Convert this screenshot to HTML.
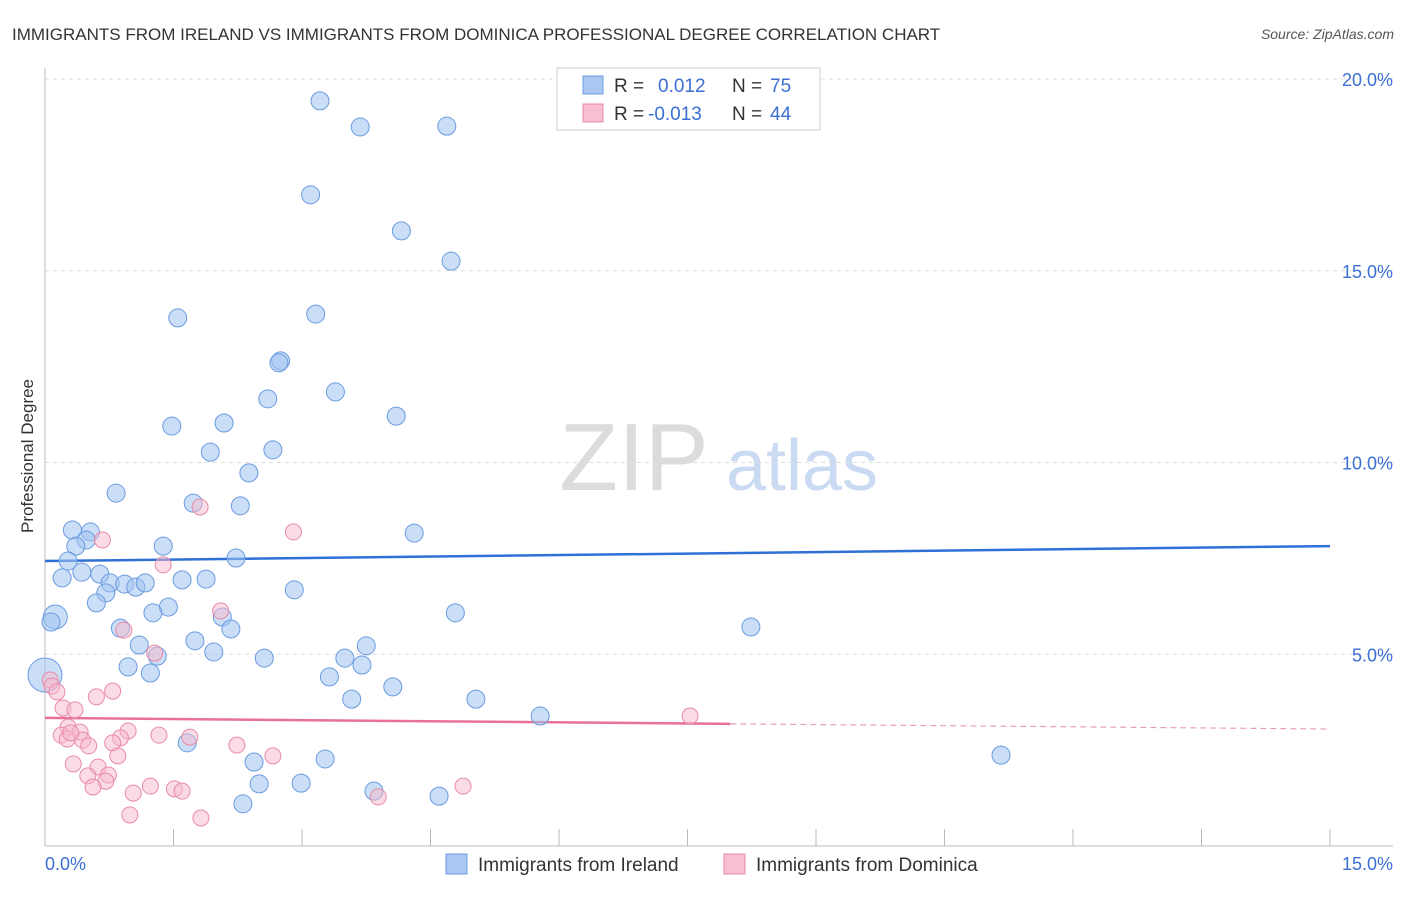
<!DOCTYPE html>
<html><head><meta charset="utf-8">
<style>
body{margin:0;background:#fff;font-family:"Liberation Sans",sans-serif;}
svg text{font-family:"Liberation Sans",sans-serif;}
</style></head>
<body>
<svg id="chart" width="1406" height="892" xmlns="http://www.w3.org/2000/svg">
<text x="12" y="40" font-size="17" fill="#333">IMMIGRANTS FROM IRELAND VS IMMIGRANTS FROM DOMINICA PROFESSIONAL DEGREE CORRELATION CHART</text>
<text x="1394" y="39" font-size="14" fill="#555" font-style="italic" text-anchor="end">Source: ZipAtlas.com</text>
<text transform="translate(33,456) rotate(-90)" font-size="17" fill="#333" text-anchor="middle">Professional Degree</text>
<g>
<text x="634" y="490" font-size="96" fill="#dcdcdc" font-family="Liberation Serif" text-anchor="middle">ZIP</text>
<text x="802" y="490" font-size="72" fill="#c9daf2" text-anchor="middle">atlas</text>
</g>
<g id="grid"></g>
<g id="axes"></g>
<g id="trend"></g>
<g id="points"></g>
<g>
<rect x="557" y="68" width="263" height="62" fill="#fff" stroke="#ccc"/>
<rect x="583" y="76" width="20" height="18" fill="#a9c7f0" stroke="#6a9be0"/>
<text x="614" y="92" font-size="19" fill="#333">R =</text><text x="658" y="92" font-size="19" fill="#3b6fd4">0.012</text>
<text x="732" y="92" font-size="19" fill="#333">N =</text><text x="770" y="92" font-size="19" fill="#3b6fd4">75</text>
<rect x="583" y="104" width="20" height="18" fill="#f7bfd0" stroke="#e88aa8"/>
<text x="614" y="120" font-size="19" fill="#333">R =</text><text x="648" y="120" font-size="19" fill="#3b6fd4">-0.013</text>
<text x="732" y="120" font-size="19" fill="#333">N =</text><text x="770" y="120" font-size="19" fill="#3b6fd4">44</text>
</g>
<g>
<rect x="446" y="854" width="21" height="20" fill="#a9c7f0" stroke="#6a9be0"/>
<text x="478" y="871" font-size="19" fill="#333">Immigrants from Ireland</text>
<rect x="724" y="854" width="21" height="20" fill="#f7bfd0" stroke="#e88aa8"/>
<text x="756" y="871" font-size="19" fill="#333">Immigrants from Dominica</text>
</g>
</svg>
<script>
const yTicks=[5,10,15,20];
const yTickLabels=["5.0%","10.0%","15.0%","20.0%"];
const xTickCount=10;
const xLabels=["0.0%","15.0%"];
const irelandX=[3.21,3.68,4.69,3.10,4.16,4.74,1.55,3.16,2.75,2.73,3.39,2.60,4.10,1.48,2.09,1.93,2.66,2.38,0.83,1.73,2.28,0.32,0.53,0.48,0.36,4.31,1.38,0.27,2.23,0.43,0.20,0.64,0.76,0.93,1.06,1.17,1.60,1.88,0.71,2.91,0.60,1.44,1.26,4.79,0.12,0.07,2.07,0.88,2.17,8.24,1.10,1.75,3.75,1.97,1.31,2.56,3.50,0.97,3.70,1.23,0.0,3.32,4.06,3.58,5.03,5.78,1.66,11.16,2.44,3.27,2.50,2.99,3.84,4.60,2.31];
const irelandY=[19.43,18.75,18.77,16.98,16.04,15.25,13.77,13.87,12.65,12.6,11.84,11.66,11.21,10.95,11.03,10.27,10.33,9.73,9.20,8.94,8.87,8.24,8.19,7.98,7.82,8.16,7.82,7.43,7.51,7.14,6.99,7.09,6.86,6.83,6.75,6.86,6.94,6.96,6.60,6.68,6.34,6.23,6.08,6.08,5.97,5.84,5.97,5.68,5.66,5.71,5.24,5.35,5.22,5.06,4.95,4.90,4.90,4.67,4.72,4.51,4.46,4.41,4.15,3.83,3.83,3.39,2.69,2.37,2.19,2.27,1.62,1.64,1.43,1.30,1.10];
const irelandR=[9,9,9,9,9,9,9,9,9,9,9,9,9,9,9,9,9,9,9,9,9,9,9,9,9,9,9,9,9,9,9,9,9,9,9,9,9,9,9,9,9,9,9,9,12,9,9,9,9,9,9,9,9,9,9,9,9,9,9,9,17,9,9,9,9,9,9,9,9,9,9,9,9,9,9];
const dominicaX=[1.81,2.90,0.67,1.38,2.05,0.92,1.28,0.06,0.08,0.14,0.79,0.60,0.21,0.35,7.53,0.27,0.97,0.41,0.19,0.26,1.33,1.69,0.44,0.88,0.79,0.51,2.24,2.66,0.85,0.33,0.62,0.50,0.74,0.71,0.56,1.23,1.51,1.60,1.03,4.88,3.89,0.99,1.82,0.30];
const dominicaY=[8.84,8.19,7.98,7.33,6.13,5.63,5.03,4.33,4.17,4.02,4.04,3.89,3.60,3.55,3.39,3.10,3.00,2.97,2.89,2.79,2.89,2.84,2.76,2.82,2.69,2.61,2.63,2.35,2.35,2.14,2.06,1.83,1.85,1.69,1.54,1.56,1.49,1.43,1.38,1.56,1.28,0.81,0.73,2.95];
const irelandTrend=[7.43,7.82];
const dominicaTrend=[3.34,3.05];
const dominicaSolidEnd=8.0;

const X0=45,X1=1330,XMAX=15,Y0=846,PXPER=38.35;
const sx=v=>X0+(v/XMAX)*(X1-X0);
const sy=v=>Y0-v*PXPER;
const NS="http://www.w3.org/2000/svg";
function mk(tag,attrs,parent){const e=document.createElementNS(NS,tag);for(const k in attrs)e.setAttribute(k,attrs[k]);parent.appendChild(e);return e;}
const grid=document.getElementById('grid'),axes=document.getElementById('axes'),trend=document.getElementById('trend'),pts=document.getElementById('points');
yTicks.forEach((t,i)=>{
 const l=mk('line',{x1:45,x2:1393,y1:sy(t),y2:sy(t),stroke:'#ddd','stroke-dasharray':'4,4'},grid);
 
 
 const tx=mk('text',{x:1393,y:sy(t)+7,'font-size':18,fill:'#3b6fd4','text-anchor':'end'},grid);
 tx.textContent=yTickLabels[i];
 
 
});
const ya=mk('line',{x1:45,x2:45,y1:68,y2:846,stroke:'#bbb'},axes);


const xa=mk('line',{x1:45,x2:1393,y1:846,y2:846,stroke:'#bbb'},axes);


for(let i=1;i<=xTickCount;i++){
 const v=XMAX*i/xTickCount;
 const t=mk('line',{x1:sx(v),x2:sx(v),y1:829,y2:846,stroke:'#bbb'},axes);
 
 
}
const xl0=mk('text',{x:45,y:870,'font-size':18,fill:'#3b6fd4'},axes);
xl0.textContent=xLabels[0];


const xl1=mk('text',{x:1393,y:870,'font-size':18,fill:'#3b6fd4','text-anchor':'end'},axes);
xl1.textContent=xLabels[1];



irelandX.forEach((x,i)=>{
 const c=mk('circle',{cx:sx(x),cy:sy(irelandY[i]),r:irelandR[i],fill:'rgba(160,195,240,0.55)',stroke:'#6a9be0','stroke-width':1},pts);
 
 
});
dominicaX.forEach((x,i)=>{
 const c=mk('circle',{cx:sx(x),cy:sy(dominicaY[i]),r:8,fill:'rgba(247,185,205,0.5)',stroke:'#e88aa8','stroke-width':1},pts);
 
 
});
const bt=mk('line',{x1:sx(0),y1:sy(irelandTrend[0]),x2:sx(XMAX),y2:sy(irelandTrend[1]),stroke:'#2f6fd6','stroke-width':2.5},trend);


const pm=dominicaTrend[0]+(dominicaTrend[1]-dominicaTrend[0])*dominicaSolidEnd/XMAX;
const pt=mk('line',{x1:sx(0),y1:sy(dominicaTrend[0]),x2:sx(dominicaSolidEnd),y2:sy(pm),stroke:'#e8719a','stroke-width':2.5},trend);


const pd=mk('line',{x1:sx(dominicaSolidEnd),y1:sy(pm),x2:sx(XMAX),y2:sy(dominicaTrend[1]),stroke:'#e8a0b8','stroke-width':1.2,'stroke-dasharray':'6,4'},trend);


</script>
</body></html>
